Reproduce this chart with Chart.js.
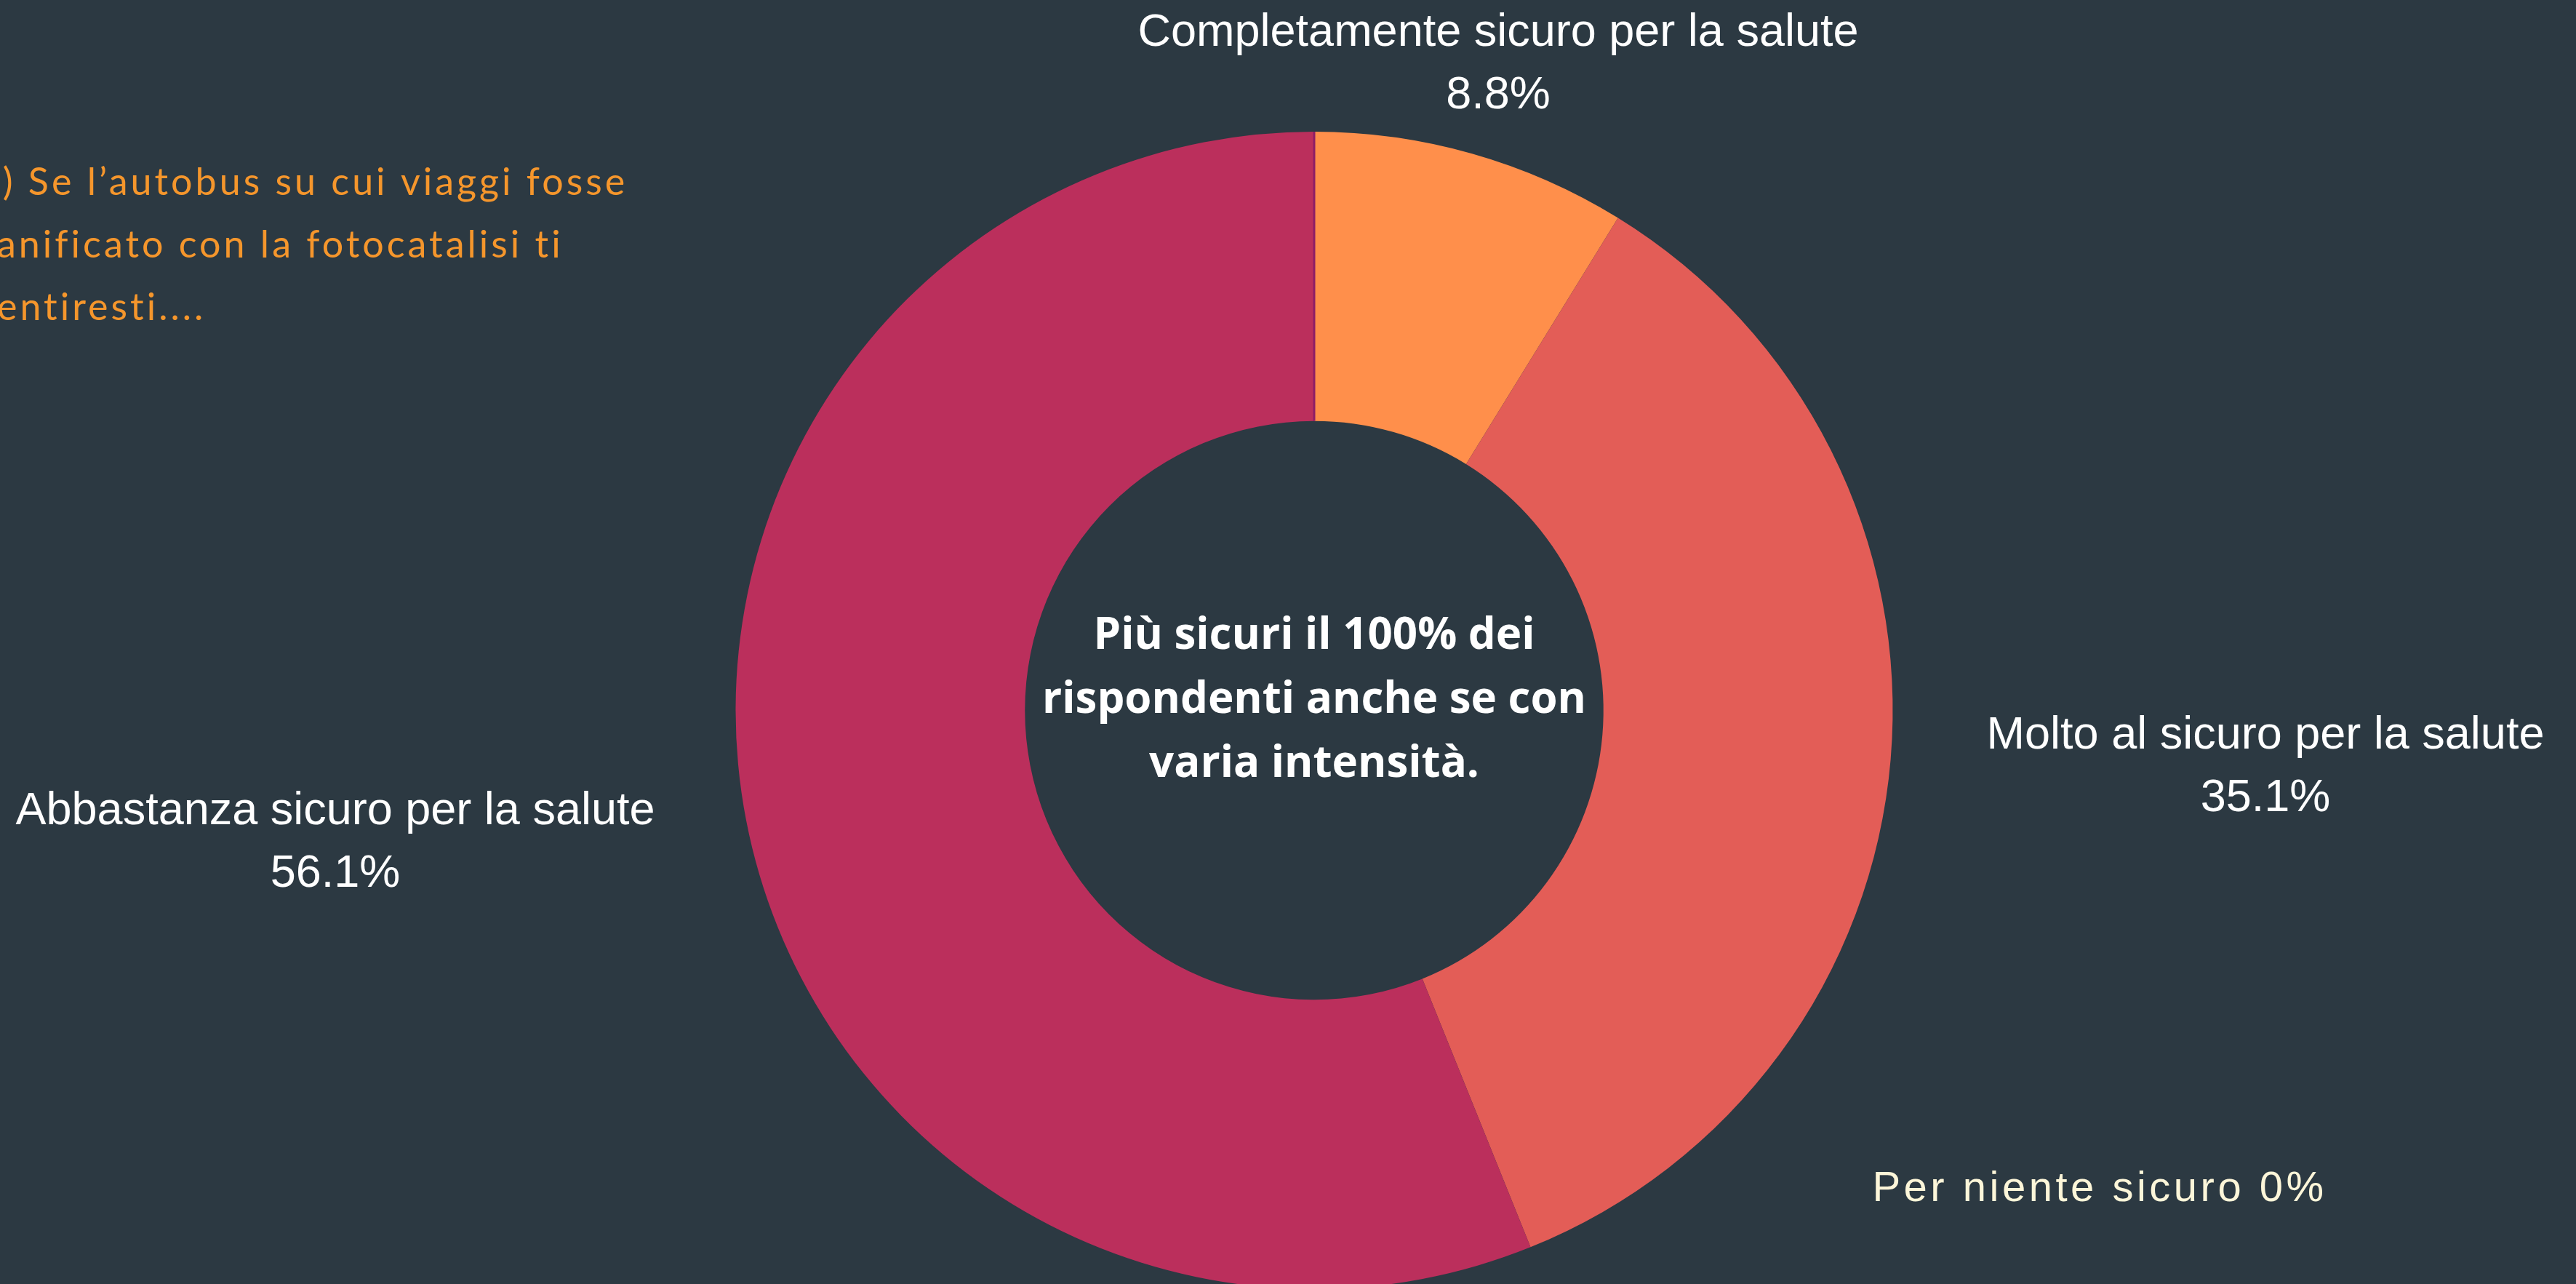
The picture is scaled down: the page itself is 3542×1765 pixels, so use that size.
<!DOCTYPE HTML>
<html>
<head>
    <title>Fotocatalisi - sondaggio</title>
    <meta charset="utf-8" />
    <script src="https://cdn.jsdelivr.net/npm/chart.js"></script>
    <style>
        html, body { margin: 0; padding: 0; background: #2c3942; overflow: hidden; }
        #wrap { position: relative; width: 3542px; height: 1772px; }
    </style>
</head>
<body>
    <div id="wrap">
        <canvas id="donut"></canvas>
    </div>

    <script>
        // data
        const categories = ['Per niente sicuro', 'Completamente sicuro per la salute', 'Molto al sicuro per la salute', 'Abbastanza sicuro per la salute'];
        const percentages = [0, 8.8, 35.1, 56.1];
        const sliceColors = ['#8e1f66', '#ff8f4b', '#e35d57', '#bb2f5c'];

        const titleLines = ['6) Se l\u2019autobus su cui viaggi fosse', 'sanificato con la fotocatalisi ti', 'sentiresti....'];
        const centerLines = ['Più sicuri il 100% dei', 'rispondenti anche se con', 'varia intensità.'];

        // where each slice label sits, relative to the donut centre in px
        const labelOffsets = [[1080, 658], [253, -888], [1308, 78], [-1346, 182]];

        const pct = v => (Number.isInteger(v) ? v : v.toFixed(1)) + '%';

        // draws the zero slice as a thin line, the labels, the centre text and the title
        const extrasPlugin = {
            id: 'extras',
            afterDatasetsDraw(chart) {
                const ctx = chart.ctx;
                const meta = chart.getDatasetMeta(0);
                const zero = meta.data[0];
                const cx = zero.x, cy = zero.y;

                // 0% slice: just a line at its start angle
                const a = zero.startAngle;
                ctx.save();
                ctx.strokeStyle = sliceColors[0];
                ctx.lineWidth = 3;
                ctx.beginPath();
                ctx.moveTo(cx + Math.cos(a) * zero.innerRadius, cy + Math.sin(a) * zero.innerRadius);
                ctx.lineTo(cx + Math.cos(a) * zero.outerRadius, cy + Math.sin(a) * zero.outerRadius);
                ctx.stroke();
                ctx.restore();

                ctx.save();
                ctx.textAlign = 'center';
                ctx.textBaseline = 'middle';

                // slice labels
                categories.forEach((name, i) => {
                    const x = cx + labelOffsets[i][0];
                    const y = cy + labelOffsets[i][1];
                    if (percentages[i] === 0) {
                        ctx.font = '58px "Liberation Sans", Arial, sans-serif';
                        ctx.letterSpacing = '4.5px';
                        ctx.fillStyle = '#fdf6d9';
                        ctx.fillText(name + ' ' + pct(percentages[i]), x, y);
                        ctx.letterSpacing = '0px';
                    } else {
                        ctx.font = '63px "Liberation Sans", Arial, sans-serif';
                        ctx.fillStyle = '#ffffff';
                        ctx.fillText(name, x, y - 43);
                        ctx.fillText(pct(percentages[i]), x, y + 43);
                    }
                });

                // centre text
                ctx.font = 'bold 60px "Open Sans", Lato, sans-serif';
                ctx.fillStyle = '#ffffff';
                centerLines.forEach((line, i) => {
                    ctx.fillText(line, cx, cy - 102 + i * 88);
                });

                // question text, top left, partly cut off by the edge
                ctx.textAlign = 'left';
                ctx.font = '52px Lato, "Open Sans", sans-serif';
                ctx.letterSpacing = '4px';
                ctx.fillStyle = '#f5962c';
                const shift = ctx.measureText('s').width + 4;
                titleLines.forEach((line, i) => {
                    ctx.fillText(line, -shift, 251 + i * 86);
                });
                ctx.restore();
            }
        };

        const ctx = document.getElementById('donut').getContext('2d');
        new Chart(ctx, {
            type: 'doughnut',
            data: {
                labels: categories,
                datasets: [{
                    data: percentages,
                    backgroundColor: sliceColors,
                    borderWidth: 0
                }]
            },
            options: {
                responsive: true,
                maintainAspectRatio: false,
                animation: false,
                cutout: '50%',
                layout: { padding: { top: 181, left: 72, right: 0, bottom: 0 } },
                plugins: {
                    legend: { display: false },
                    tooltip: { enabled: false }
                }
            },
            plugins: [extrasPlugin]
        });
    </script>
</body>
</html>
